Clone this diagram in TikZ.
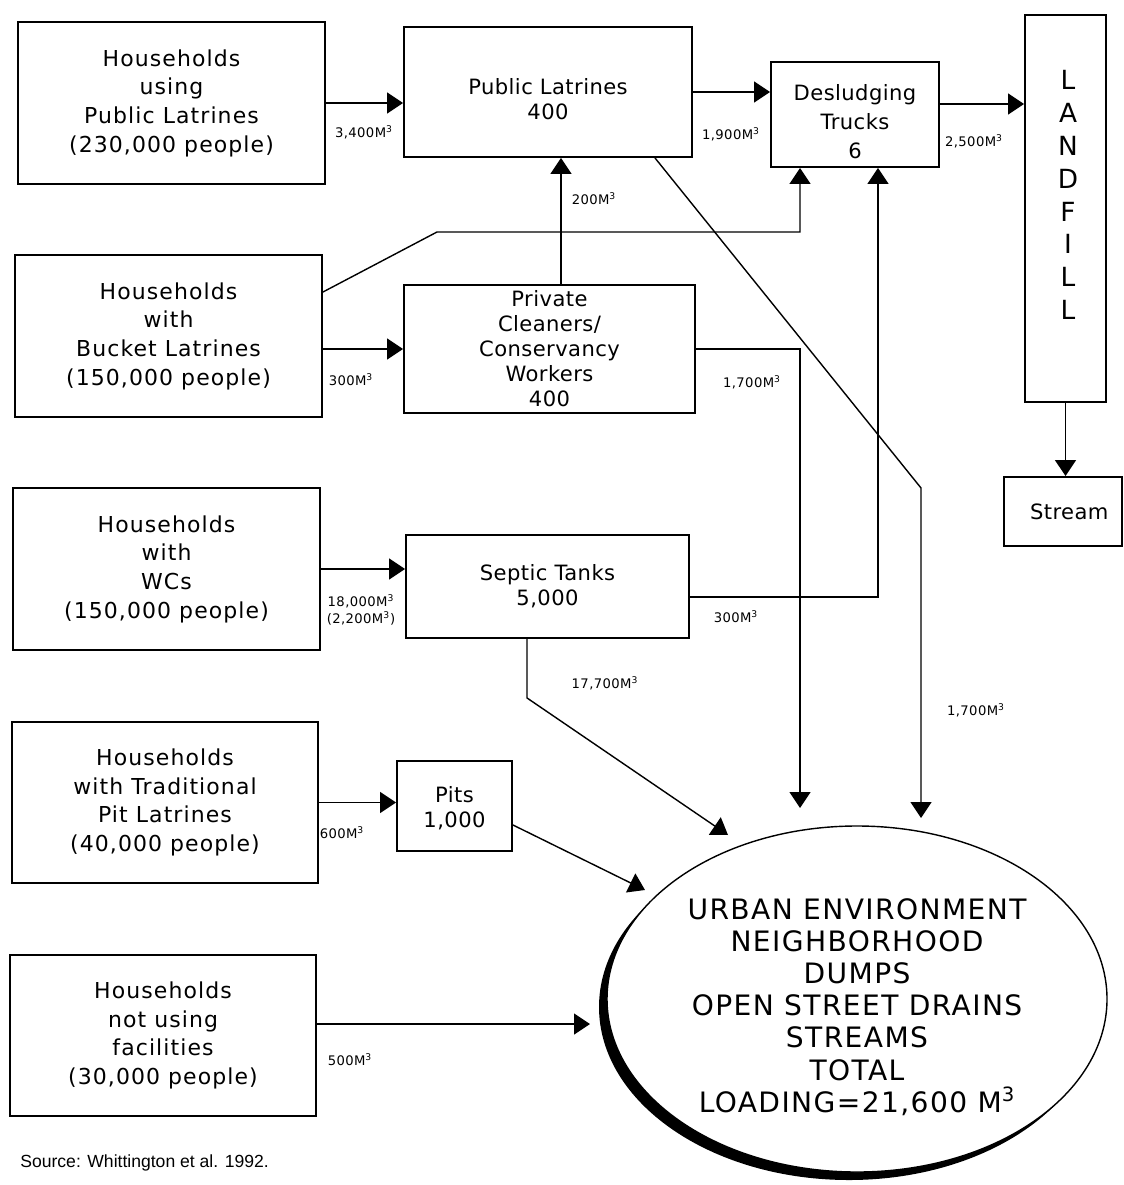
\documentclass[tikz,border=0pt]{standalone}
\usepackage{fontspec}
\usepackage{tikz}
\usetikzlibrary{arrows.meta}
\usetikzlibrary{shapes.geometric}
\usetikzlibrary{shadows}
\newfontfamily\housefont[LetterSpace=5]{DejaVu Sans}
\newfontfamily\stagefont[LetterSpace=2]{DejaVu Sans}
\newfontfamily\qtyfont[LetterSpace=3]{DejaVu Sans}
\newfontfamily\urbanfont[LetterSpace=5]{DejaVu Sans}
\newfontfamily\srcfont{Liberation Sans}
\tikzset{
  house/.style={draw, line width=1.1pt, inner sep=0pt, align=center,
    font=\housefont\fontsize{12.5}{16.3}\selectfont},
  stage/.style={draw, line width=1.1pt, inner sep=0pt, align=center,
    font=\stagefont\fontsize{12}{14.2}\selectfont},
  qty/.style={inner sep=0pt, align=center, font=\qtyfont\fontsize{7.5}{9.6}\selectfont},
  flow/.style={line width=0.8pt, -{Triangle[length=0.32cm,width=0.42cm]}},
  urban/.style={ellipse, draw, line width=0.8pt, fill=white, inner sep=0pt, align=center,
    font=\urbanfont\fontsize{16}{18.3}\selectfont,
    drop shadow={shadow xshift=-0.16cm, shadow yshift=-0.16cm, fill=black, opacity=1}}
}
\newcommand{\housebox}[6]{\node[house, minimum width=#4*0.02cm, minimum height=#5*0.02cm] (#1) at (#2,#3) {#6};}
\newcommand{\stagebox}[6]{\node[stage, minimum width=#4*0.02cm, minimum height=#5*0.02cm] (#1) at (#2,#3) {#6};}
\newcommand{\flowqty}[4]{\node[qty] (#1) at (#2,#3) {#4};}
% taller first line pushes a centred text block down
\newcommand{\lowerby}[1]{\rule{0pt}{#1}}

\begin{document}
\begin{tikzpicture}[x=0.02cm, y=-0.02cm]
        \useasboundingbox (0,0) rectangle (1124,1185);

        % households
        \housebox{hhpub}{171.5}{103}{307}{162}{Households\\using\\Public Latrines\\(230,000 people)}
        \housebox{hhbucket}{168.5}{336}{307}{162}{Households\\with\\Bucket Latrines\\(150,000 people)}
        \housebox{hhwc}{166.5}{569}{307}{162}{Households\\with\\WCs\\(150,000 people)}
        \housebox{hhpit}{165}{802.5}{306}{161}{Households\\with Traditional\\Pit Latrines\\(40,000 people)}
        \housebox{hhnone}{163}{1035.5}{306}{161}{Households\\not using\\facilities\\(30,000 people)}

        % middle stages
        \stagebox{publat}{548}{92}{288}{130}{\lowerby{17pt}Public Latrines\\400}
        \stagebox{cleaners}{549.5}{349}{291}{128}{Private\\Cleaners/\\Conservancy\\Workers\\400}
        \stagebox{septic}{547.5}{586.5}{283}{103}{Septic Tanks\\5,000}
        \stagebox{pits}{454.5}{806}{115}{90}{\lowerby{12pt}Pits\\1,000}
        \node[stage, font=\stagefont\fontsize{12}{16.5}\selectfont,
          minimum width=168*0.02cm, minimum height=105*0.02cm] (trucks) at (855,114.5) {\lowerby{17pt}Desludging\\Trucks\\6};

        % landfill and stream
        \stagebox{landfill}{1065.5}{208.5}{81}{387}{}
        \node[inner sep=0pt, align=center, font=\housefont\fontsize{15}{18.7}\selectfont] (lfword) at (1068,195) {L\\A\\N\\D\\F\\I\\L\\L};
        \stagebox{stream}{1063}{511.5}{118}{69}{\hspace{0.25cm}Stream}

        % urban environment
        \node[urban, minimum width=500*0.02cm, minimum height=346*0.02cm] (urban) at (857,999)
          {\lowerby{21pt}URBAN ENVIRONMENT\\NEIGHBORHOOD\\DUMPS\\OPEN STREET DRAINS\\STREAMS\\TOTAL\\LOADING=21,600 M\textsuperscript{3}};

        % public latrines and trucks
        \draw[flow] (hhpub.east) -- (hhpub.east -| publat.west);
        \draw[flow] (publat.east) -- (publat.east -| trucks.west);
        \coordinate (trucksout) at ([yshift=0.21cm]trucks.east);
        \draw[flow] (trucksout) -- (trucksout -| landfill.west);
        \draw[flow] (landfill.south) -- (landfill.south |- stream.north);

        % bucket latrines
        \coordinate (bucketout) at ([yshift=0.88cm]hhbucket.east);
        \coordinate (bucketbend) at (437,232);
        \coordinate (trucksinL) at ([xshift=-1.1cm]trucks.south);
        \draw[flow] (bucketout) -- (bucketbend) -| (trucksinL);
        \draw[flow] (cleaners.west -| hhbucket.east) -- (cleaners.west);
        \coordinate (cleanersup) at ([xshift=0.23cm]cleaners.north);
        \draw[flow] (cleanersup) -- (cleanersup |- publat.south);
        \coordinate (urbanA) at (800,808);
        \draw[flow] (cleaners.east) -| (urbanA);

        % public latrines overflow
        \coordinate (publatout) at ([xshift=2.14cm]publat.south);
        \coordinate (publatbend) at (921,488);
        \coordinate (urbanB) at (921,818);
        \draw[flow] (publatout) -- (publatbend) -- (urbanB);

        % WCs
        \draw[flow] (hhwc.east) -- (hhwc.east -| septic.west);
        \coordinate (septicout) at ([yshift=-0.21cm]septic.east);
        \coordinate (trucksinR) at ([xshift=0.46cm]trucks.south);
        \draw[flow] (septicout) -| (trucksinR);
        \coordinate (septicdown) at ([xshift=-0.41cm]septic.south);
        \coordinate (urbanC) at (728,835);
        \draw[flow] (septicdown) -- ++(0,59) -- (urbanC);

        % pits
        \draw[flow] (hhpit.east) -- (hhpit.east -| pits.west);
        \coordinate (pitsout) at ([yshift=-0.38cm]pits.east);
        \coordinate (urbanD) at (645,890);
        \draw[flow] (pitsout) -- (urbanD);

        % no facilities
        \coordinate (noneout) at ([yshift=0.23cm]hhnone.east);
        \coordinate (urbanE) at (590,1024);
        \draw[flow] (noneout) -- (noneout -| urbanE);

        % quantities
        \flowqty{qpub}{364}{132}{3,400M\textsuperscript{3}}
        \flowqty{qpubtr}{731}{134}{1,900M\textsuperscript{3}}
        \flowqty{qtrlf}{974}{141}{2,500M\textsuperscript{3}}
        \flowqty{qclpub}{594}{199}{200M\textsuperscript{3}}
        \flowqty{qbucket}{351}{380}{300M\textsuperscript{3}}
        \flowqty{qclurb}{752}{382}{1,700M\textsuperscript{3}}
        \flowqty{qwc}{361}{610}{18,000M\textsuperscript{3}\\(2,200M\textsuperscript{3})}
        \flowqty{qsptr}{736}{617}{300M\textsuperscript{3}}
        \flowqty{qspurb}{605}{683}{17,700M\textsuperscript{3}}
        \flowqty{qpuburb}{976}{710}{1,700M\textsuperscript{3}}
        \flowqty{qpit}{342}{833}{600M\textsuperscript{3}}
        \flowqty{qnone}{350}{1060}{500M\textsuperscript{3}}

        \node[inner sep=0pt, anchor=west, font=\srcfont\fontsize{10}{12}\selectfont] (src) at (20,1163) {Source: Whittington et al. 1992.};
\end{tikzpicture}
\end{document}
